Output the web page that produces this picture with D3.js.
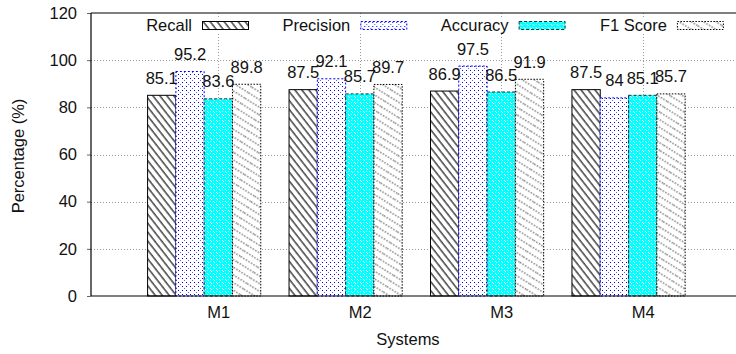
<!DOCTYPE html>
<html>
<head>
<meta charset="utf-8">
<script src="https://cdn.jsdelivr.net/npm/d3@7"></script>
<style>
  body { margin: 0; background: #fff; }
  text { font-family: "Liberation Sans", Arial, Helvetica, sans-serif; }
</style>
</head>
<body>
<div id="chart"></div>
<script>
// data
var systems = ["M1", "M2", "M3", "M4"];
var metrics = ["Recall", "Precision", "Accuracy", "F1 Score"];
var recall    = [85.1, 87.5, 86.9, 87.5];
var precision = [95.2, 92.1, 97.5, 84];
var accuracy  = [83.6, 85.7, 86.5, 85.1];
var f1score   = [89.8, 89.7, 91.9, 85.7];
var yTicks = [0, 20, 40, 60, 80, 100, 120];

var series = [recall, precision, accuracy, f1score];

var W = 736, H = 354;
var m = { top: 13, left: 91, bottom: 58 };
var fs = 16.5;

var svg = d3.select("#chart").append("svg").attr("width", W).attr("height", H);
var defs = svg.append("defs");

// fill patterns, gnuplot-ish
var p0 = defs.append("pattern").attr("id", "pat0").attr("patternUnits", "userSpaceOnUse")
  .attr("width", 5.5).attr("height", 10).attr("patternTransform", "rotate(-38)");
p0.append("rect").attr("width", 5.5).attr("height", 10).attr("fill", "#fff");
p0.append("line").attr("x1", 1).attr("y1", 0).attr("x2", 1).attr("y2", 10).attr("stroke", "#000").attr("stroke-width", 1.1);

var p1 = defs.append("pattern").attr("id", "pat1").attr("patternUnits", "userSpaceOnUse")
  .attr("width", 8).attr("height", 8);
p1.append("rect").attr("width", 8).attr("height", 8).attr("fill", "#fff");
[[0,0],[2,2],[6,2],[4,4],[2,6],[6,6]].forEach(function(d, k) {
  p1.append("rect").attr("x", d[0]).attr("y", d[1]).attr("width", 1).attr("height", 1)
    .attr("shape-rendering", "crispEdges").attr("fill", k % 3 == 0 ? "#6060ff" : "#0000ff");
});

var p2 = defs.append("pattern").attr("id", "pat2").attr("patternUnits", "userSpaceOnUse")
  .attr("width", 6).attr("height", 6);
p2.append("rect").attr("width", 6).attr("height", 6).attr("fill", "#00ffff").attr("shape-rendering", "crispEdges");
[[0,0],[3,3],[1,1],[4,4],[0,3],[3,0]].forEach(function(d, k) {
  p2.append("rect").attr("x", d[0]).attr("y", d[1]).attr("width", 1).attr("height", 1)
    .attr("shape-rendering", "crispEdges").attr("fill", k < 4 ? "#ffffff" : "#b0ffff");
});

var p3 = defs.append("pattern").attr("id", "pat3").attr("patternUnits", "userSpaceOnUse")
  .attr("width", 6.5).attr("height", 20).attr("patternTransform", "rotate(-58)");
p3.append("rect").attr("width", 6.5).attr("height", 20).attr("fill", "#fff");
p3.append("line").attr("x1", 1).attr("y1", 0).attr("x2", 1).attr("y2", 20).attr("stroke", "#555")
  .attr("stroke-width", 1.1).attr("stroke-dasharray", "1.5,1.5");

var styles = [
  { fill: "url(#pat0)", stroke: "#000", dash: null },
  { fill: "url(#pat1)", stroke: "#0000ff", dash: "2,2" },
  { fill: "url(#pat2)", stroke: "#113333", dash: "3,2" },
  { fill: "url(#pat3)", stroke: "#000", dash: "1.5,1.5" }
];

var x = d3.scaleLinear().domain([-0.9, 3.9]).range([m.left, 770]);
var y = d3.scaleLinear().domain([0, 120]).range([H - m.bottom, m.top]);
var bw = (x(1) - x(0)) / 5;

// grid
var grid = svg.append("g").attr("stroke", "#999").attr("stroke-dasharray", "1,2").attr("stroke-width", 1);
grid.selectAll(".gy").data(yTicks.filter(function(v) { return v > 0 && v < 120; })).enter().append("line")
  .attr("x1", m.left).attr("x2", W).attr("y1", function(d) { return Math.round(y(d)) + 0.5; })
  .attr("y2", function(d) { return Math.round(y(d)) + 0.5; });
grid.selectAll(".gx").data(d3.range(systems.length)).enter().append("line")
  .attr("x1", function(d) { return Math.round(x(d)) + 0.5; }).attr("x2", function(d) { return Math.round(x(d)) + 0.5; })
  .attr("y1", y(120)).attr("y2", y(0));

// bars
series.forEach(function(vals, j) {
  var st = styles[j];
  svg.append("g").selectAll("rect").data(vals).enter().append("rect")
    .attr("x", function(d, i) { return x(i) + (j - 2.5) * bw; })
    .attr("y", function(d) { return y(d); })
    .attr("width", bw)
    .attr("height", function(d) { return y(0) - y(d); })
    .attr("fill", st.fill).attr("stroke", st.stroke).attr("stroke-width", 1)
    .attr("stroke-dasharray", st.dash);
});

// value labels
series.forEach(function(vals, j) {
  svg.append("g").selectAll("text").data(vals).enter().append("text")
    .attr("x", function(d, i) { return x(i) + (j - 2) * bw; })
    .attr("y", function(d) { return y(d) - 11.5; })
    .attr("text-anchor", "middle").attr("font-size", fs).attr("fill", "#111")
    .text(function(d) { return d; });
});

// legend
svg.append("rect").attr("x", 135).attr("y", 17).attr("width", 600).attr("height", 17).attr("fill", "#fff");
var lg = svg.append("g").selectAll("g").data(metrics).enter().append("g")
  .attr("transform", function(d, i) { return "translate(" + (192 + i * 158.3) + ",0)"; });
lg.append("text").attr("x", 0).attr("y", 31).attr("text-anchor", "end").attr("font-size", fs).attr("fill", "#111")
  .text(function(d) { return d; });
lg.append("rect").attr("x", 10.5).attr("y", 21.5).attr("width", 46).attr("height", 8)
  .attr("fill", function(d, i) { return styles[i].fill; })
  .attr("stroke", function(d, i) { return styles[i].stroke; })
  .attr("stroke-dasharray", function(d, i) { return styles[i].dash; });

// axes
var ya = svg.append("g").attr("transform", "translate(" + m.left + ",0)")
  .call(d3.axisLeft(y).tickValues(yTicks).tickSize(4).tickPadding(10));
ya.select(".domain").remove();
ya.selectAll(".tick line").attr("stroke", "#666");
ya.selectAll("text").attr("font-size", fs).attr("fill", "#111").attr("font-family", null);

var xa = svg.append("g").attr("transform", "translate(0," + y(0) + ")")
  .call(d3.axisBottom(x).tickValues(d3.range(systems.length)).tickFormat(function(i) { return systems[i]; })
    .tickSize(0).tickPadding(10));
xa.select(".domain").remove();
xa.selectAll("text").attr("font-size", fs).attr("fill", "#111").attr("font-family", null);

// frame
var fr = svg.append("g").attr("stroke", "#000").attr("stroke-width", 1.2);
fr.append("line").attr("x1", m.left).attr("x2", m.left).attr("y1", y(120)).attr("y2", y(0));
fr.append("line").attr("x1", m.left).attr("x2", W).attr("y1", y(120)).attr("y2", y(120));
fr.append("line").attr("x1", m.left).attr("x2", W).attr("y1", y(0)).attr("y2", y(0));

// axis titles
svg.append("text").attr("x", 408).attr("y", 345).attr("text-anchor", "middle").attr("font-size", fs).attr("fill", "#111")
  .text("Systems");
svg.append("text").attr("transform", "translate(24,156) rotate(-90)").attr("text-anchor", "middle")
  .attr("font-size", fs).attr("fill", "#111").text("Percentage (%)");
</script>
</body>
</html>
